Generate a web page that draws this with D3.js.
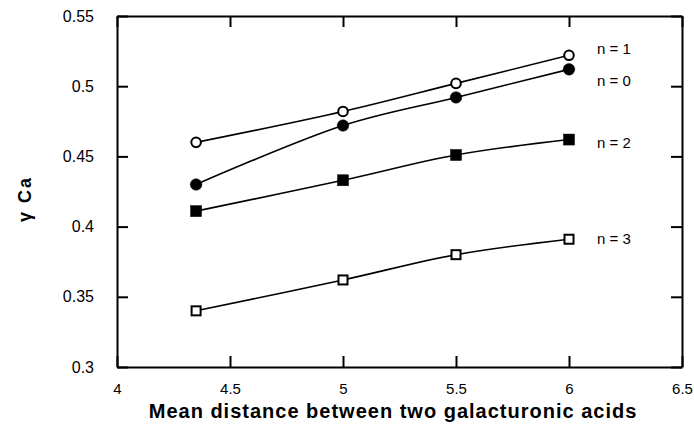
<!DOCTYPE html>
<html>
<head>
<meta charset="utf-8">
<script src="https://cdn.jsdelivr.net/npm/d3@7"></script>
<style>
  body { margin: 0; background: #fff; }
  text { font-family: "Liberation Sans", Arial, sans-serif; }
</style>
</head>
<body>
<div id="chart"></div>
<script>
// distances (x) and gamma Ca for each n
const distances = [4.35, 5, 5.5, 6];
const gammaN0 = [0.43, 0.472, 0.492, 0.512];
const gammaN1 = [0.46, 0.482, 0.502, 0.522];
const gammaN2 = [0.411, 0.433, 0.451, 0.462];
const gammaN3 = [0.34, 0.362, 0.38, 0.391];
const seriesLabels = ['n = 1', 'n = 0', 'n = 2', 'n = 3'];
const xTicks = [4, 4.5, 5, 5.5, 6, 6.5];
const yTicks = [0.3, 0.35, 0.4, 0.45, 0.5, 0.55];

const series = [
  { label: seriesLabels[0], values: gammaN1, shape: 'circle', fill: '#fff', labelY: 0.527 },
  { label: seriesLabels[1], values: gammaN0, shape: 'circle', fill: '#000', labelY: 0.504 },
  { label: seriesLabels[2], values: gammaN2, shape: 'square', fill: '#000', labelY: 0.46 },
  { label: seriesLabels[3], values: gammaN3, shape: 'square', fill: '#fff', labelY: 0.391 }
];

let margin = { top: 16, left: 117, right: 12, bottom: 74 };
let width = 694 - margin.left - margin.right;
let height = 441 - margin.top - margin.bottom;

let svg = d3.select('#chart')
  .append('svg')
  .attr('width', 694)
  .attr('height', 441);

let g = svg.append('g')
  .attr('transform', 'translate(' + margin.left + ',' + margin.top + ')');

const xScale = d3.scaleLinear().domain([4, 6.5]).range([0, width]);
const yScale = d3.scaleLinear().domain([0.3, 0.55]).range([height, 0]);

// inward ticks on all four sides
const tickLen = 11;
g.append('g')
  .attr('class', 'x-axis')
  .attr('transform', `translate(0, ${height})`)
  .call(d3.axisBottom(xScale).tickValues(xTicks).tickSizeInner(-tickLen).tickSizeOuter(0).tickPadding(16)
    .tickFormat(d3.format('')));
g.append('g')
  .call(d3.axisTop(xScale).tickValues(xTicks).tickSizeInner(-tickLen).tickSizeOuter(0).tickFormat(''));
g.append('g')
  .attr('class', 'y-axis')
  .call(d3.axisLeft(yScale).tickValues(yTicks).tickSizeInner(-tickLen).tickSizeOuter(0).tickPadding(23)
    .tickFormat(d3.format('')));
g.append('g')
  .attr('transform', `translate(${width}, 0)`)
  .call(d3.axisRight(yScale).tickValues(yTicks).tickSizeInner(-tickLen).tickSizeOuter(0).tickFormat(''));

g.selectAll('.domain').attr('stroke', '#000').attr('stroke-width', 2);
g.selectAll('.tick line').attr('stroke', '#000').attr('stroke-width', 2);
g.selectAll('.tick text').attr('fill', '#000');
g.selectAll('.x-axis .tick text').style('font-size', '15px');
g.selectAll('.y-axis .tick text').style('font-size', '16px');

const line = d3.line()
  .x((d, i) => xScale(distances[i]))
  .y(d => yScale(d))
  .curve(d3.curveCatmullRom.alpha(0.5));

series.forEach(s => {
  g.append('path')
    .datum(s.values)
    .attr('fill', 'none')
    .attr('stroke', '#000')
    .attr('stroke-width', 1.6)
    .attr('d', line);

  const pts = g.selectAll(null).data(s.values).enter();
  if (s.shape === 'circle') {
    pts.append('circle')
      .attr('cx', (d, i) => xScale(distances[i]))
      .attr('cy', d => yScale(d))
      .attr('r', s.fill === '#000' ? 5.8 : 4.8)
      .attr('fill', s.fill)
      .attr('stroke', '#000')
      .attr('stroke-width', s.fill === '#000' ? 0.5 : 2);
  } else {
    const sz = s.fill === '#000' ? 11 : 9;
    pts.append('rect')
      .attr('x', (d, i) => xScale(distances[i]) - sz / 2)
      .attr('y', d => yScale(d) - sz / 2)
      .attr('width', sz)
      .attr('height', sz)
      .attr('fill', s.fill)
      .attr('stroke', '#000')
      .attr('stroke-width', s.fill === '#000' ? 0.5 : 2);
  }

  g.append('text')
    .attr('x', xScale(6) + 28)
    .attr('y', yScale(s.labelY))
    .attr('dy', '0.35em')
    .style('font-size', '15px')
    .text(s.label);
});

// axis titles
svg.append('text')
  .attr('transform', 'translate(31, 199) rotate(-90)')
  .attr('text-anchor', 'middle')
  .style('font-size', '18px')
  .style('font-weight', 'bold')
  .style('letter-spacing', '2px')
  .text('γ Ca');

svg.append('text')
  .attr('x', 393)
  .attr('y', 418)
  .attr('text-anchor', 'middle')
  .style('font-size', '20px')
  .style('font-weight', 'bold')
  .style('letter-spacing', '1px')
  .text('Mean distance between two galacturonic acids');
</script>
</body>
</html>
